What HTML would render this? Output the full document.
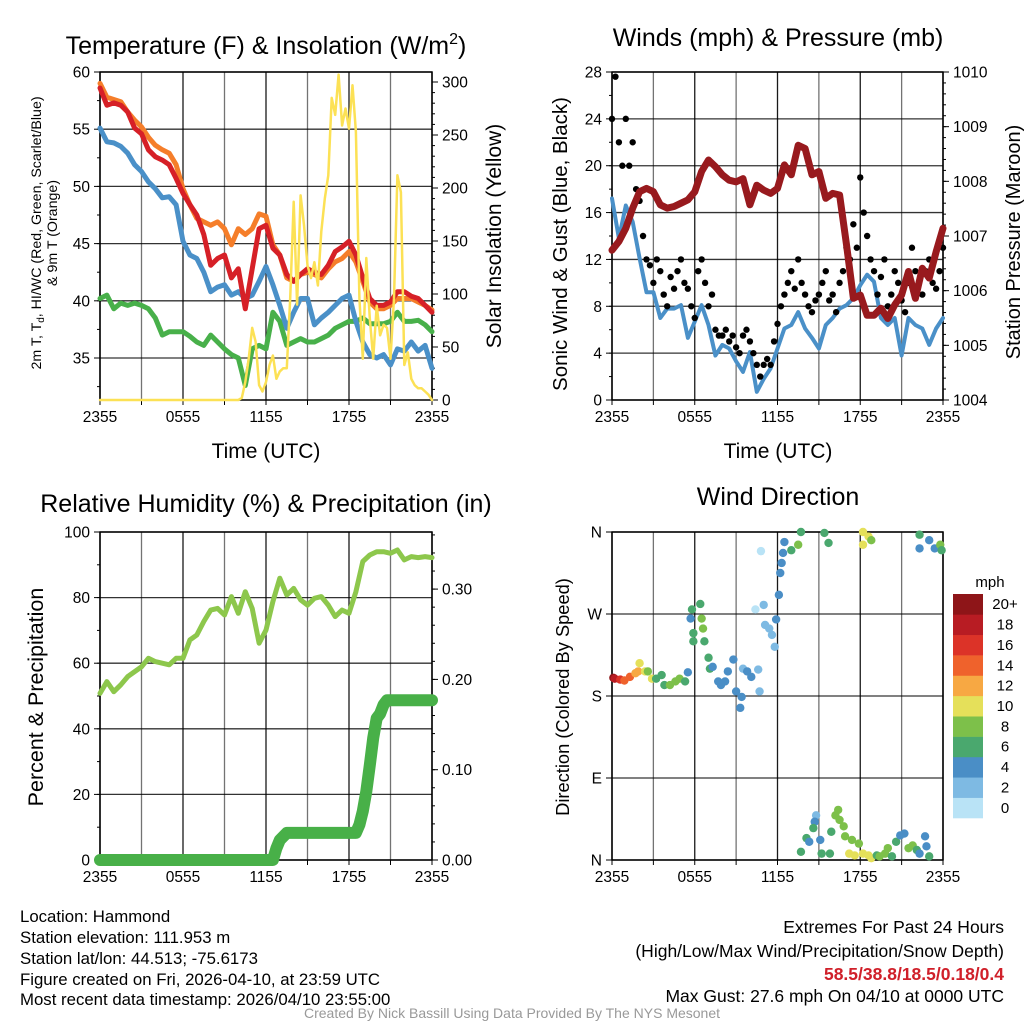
<!DOCTYPE html>
<html><head><meta charset="utf-8"><style>
html,body{margin:0;padding:0;background:#fff;}
svg{display:block;font-family:"Liberation Sans",Arial,sans-serif;}
</style></head><body>
<svg id="chart" width="1024" height="1024" viewBox="0 0 1024 1024" xmlns="http://www.w3.org/2000/svg">
<rect width="1024" height="1024" fill="#fff"/>
<g id="layer"></g>
<text x="266" y="54" font-size="25" text-anchor="middle">Temperature (F) &amp; Insolation (W/m<tspan font-size="16" dy="-10">2</tspan><tspan dy="10">)</tspan></text>
<text x="778" y="46" font-size="25" text-anchor="middle">Winds (mph) &amp; Pressure (mb)</text>
<text x="266" y="512" font-size="25" text-anchor="middle">Relative Humidity (%) &amp; Precipitation (in)</text>
<text x="778" y="505" font-size="25" text-anchor="middle">Wind Direction</text>
<text x="266" y="458" font-size="21" text-anchor="middle">Time (UTC)</text>
<text x="778" y="458" font-size="21" text-anchor="middle">Time (UTC)</text>
<text transform="translate(41,233) rotate(-90)" font-size="14.2" text-anchor="middle">2m T, T<tspan font-size="10" dy="3">d</tspan><tspan dy="-3">, HI/WC (Red, Green, Scarlet/Blue)</tspan></text>
<text transform="translate(57,233) rotate(-90)" font-size="14.2" text-anchor="middle">&amp; 9m T (Orange)</text>
<text transform="translate(501,236) rotate(-90)" font-size="21" text-anchor="middle">Solar Insolation (Yellow)</text>
<text transform="translate(567,244) rotate(-90)" font-size="20.5" text-anchor="middle">Sonic Wind &amp; Gust (Blue, Black)</text>
<text transform="translate(1020,242) rotate(-90)" font-size="20" text-anchor="middle">Station Pressure (Maroon)</text>
<text transform="translate(43,697) rotate(-90)" font-size="21.5" text-anchor="middle">Percent &amp; Precipitation</text>
<text transform="translate(569,697) rotate(-90)" font-size="18.3" text-anchor="middle">Direction (Colored By Speed)</text>
<text x="990" y="587" font-size="15" text-anchor="middle">mph</text>
<g font-size="16.8">
<text x="20" y="922">Location: Hammond</text>
<text x="20" y="943">Station elevation: 111.953 m</text>
<text x="20" y="964">Station lat/lon: 44.513; -75.6173</text>
<text x="20" y="985">Figure created on Fri, 2026-04-10, at 23:59 UTC</text>
<text x="20" y="1005">Most recent data timestamp: 2026/04/10 23:55:00</text>
</g>
<g font-size="17.5" text-anchor="end">
<text x="1004" y="933">Extremes For Past 24 Hours</text>
<text x="1004" y="957">(High/Low/Max Wind/Precipitation/Snow Depth)</text>
<text x="1004" y="980" fill="#d0202a" font-weight="bold">58.5/38.8/18.5/0.18/0.4</text>
<text x="1004" y="1002">Max Gust: 27.6 mph On 04/10 at 0000 UTC</text>
</g>
<text x="512" y="1018" font-size="14" fill="#999" text-anchor="middle">Created By Nick Bassill Using Data Provided By The NYS Mesonet</text>
</svg>
<script>
const halfHourTimes=[0,0.5,1,1.5,2,2.5,3,3.5,4,4.5,5,5.5,6,6.5,7,7.5,8,8.5,9,9.5,10,10.5,11,11.5,12,12.5,13,13.5,14,14.5,15,15.5,16,16.5,17,17.5,18,18.5,19,19.5,20,20.5,21,21.5,22,22.5,23,23.5,24];
const timeTickLabels=["2355","0555","1155","1755","2355"];
const tempTicks=[35,40,45,50,55,60];
const solarTicks=[0,50,100,150,200,250,300];
const windTicks=[0,4,8,12,16,20,24,28];
const pressureTicks=[1004,1005,1006,1007,1008,1009,1010];
const rhTicks=[0,20,40,60,80,100];
const precipTicks=[0,0.1,0.2,0.3];
const precipTickLabels=["0.00","0.10","0.20","0.30"];
const dirTicks=[0,90,180,270,360];
const dirTickLabels=["N","E","S","W","N"];
const speedBins=["0","2","4","6","8","10","12","14","16","18","20+"];
const speedColors=["#b9e3f6","#7ebae3","#4a8ec6","#4aa86e","#7dc04a","#e5e05a","#f7a843","#ef622c","#dc3328","#b81c23","#8e1518"];

const airTemp=[58.6,57.1,57.3,57.1,56.5,55.1,54.6,53.2,52.6,52.3,51.9,50.7,49.4,48.4,47.5,45.8,43.1,43.7,44.0,42.0,42.8,39.3,42.8,46.3,46.6,44.6,44.0,42.3,41.7,42.3,42.8,42.5,42.3,43.1,44.3,44.7,45.2,44.0,42.0,40.2,39.6,39.6,39.9,40.8,40.8,40.4,40.2,39.6,39.0];
const temp9m=[59.0,57.8,57.6,57.4,56.5,55.8,55.2,54.3,53.6,53.2,52.9,51.9,49.8,48.4,47.2,46.9,46.6,46.9,46.3,44.9,46.3,45.8,46.3,47.6,47.4,44.9,44.0,42.0,41.7,42.3,42.5,42.3,42.0,42.8,43.4,43.7,44.3,43.4,41.7,39.9,39.3,39.3,39.6,40.2,40.2,40.2,39.9,39.6,39.2];
const windChill=[55.1,53.9,53.8,53.5,52.9,51.9,51.3,50.4,49.8,49.0,49.1,48.4,45.2,44.0,43.7,42.5,40.8,41.2,41.4,40.5,40.8,40.2,40.5,41.7,43.0,41.4,39.6,37.6,39.0,40.2,40.2,37.9,38.5,39.0,39.6,40.2,40.5,38.2,36.4,35.3,35.0,35.3,34.4,35.8,35.6,36.4,35.6,36.1,34.1];
const dewPoint=[40.2,40.5,39.3,39.8,39.6,39.8,39.6,39.3,38.5,37.0,37.3,37.3,37.3,36.9,36.4,36.1,37.0,36.4,35.8,35.3,35.0,32.6,35.8,36.1,35.8,39.0,38.2,36.1,36.4,36.7,36.4,36.4,36.7,37.0,37.6,37.9,38.2,38.2,38.5,38.0,38.0,38.0,38.2,39.0,38.2,38.2,38.3,37.9,37.3];
const solarTimes=[0,10,10.25,10.5,10.75,11,11.25,11.5,11.75,12,12.25,12.5,12.75,13,13.25,13.5,13.75,14,14.25,14.5,14.75,15,15.25,15.5,15.75,16,16.25,16.5,16.75,17,17.25,17.5,17.75,18,18.25,18.5,18.75,19,19.25,19.5,19.75,20,20.25,20.5,20.75,21,21.25,21.5,21.75,22,22.25,22.5,22.75,23,23.25,23.5,23.75,24];
const solar=[0,0,2,17,39,68,55,14,8,17,33,42,20,27,30,30,96,187,90,193,165,127,115,130,108,159,190,212,285,269,307,259,275,256,297,253,96,39,134,77,39,89,61,71,68,39,96,212,196,33,45,20,14,11,11,8,5,0];

const sonicWind=[17.2,13.8,16.6,15.2,12.1,9.2,9.2,7.0,7.8,7.8,8.1,5.3,6.7,8.1,6.4,3.8,4.7,4.4,3.3,2.4,4.1,0.7,1.8,2.7,4.4,6.1,6.4,7.5,6.1,5.3,4.4,6.4,7.0,7.8,8.1,8.7,9.8,10.7,10.1,7.0,6.4,7.0,3.8,7.0,6.4,6.1,4.7,6.1,7.0];
const gust=[24,27.6,22,20,24,20,22,18,17,14,12,11.5,10,12,11,9,8,10.5,9.5,11,12,10,9.5,8,7,11,12,10,8,9,6,5.5,5.5,6,5,5.5,4.5,4,5.5,6,5,4,3,2,3,3.5,3,5,6.5,8,9,10,11,9.5,12,10,9,8,7.5,8.5,9,10,11,8.5,9,7.5,10,11,13,12,15,13,19,16,14,12,11,9,10.5,12,8,9,11,10,8.5,7.5,10,13,11,10,9,11,12,10,9.5,11,13];
const pressure=[1006.74,1006.90,1007.14,1007.51,1007.81,1007.87,1007.81,1007.57,1007.51,1007.54,1007.60,1007.66,1007.81,1008.18,1008.39,1008.27,1008.12,1008.02,1007.99,1008.05,1007.57,1007.93,1007.84,1007.78,1007.87,1008.30,1008.12,1008.66,1008.60,1008.12,1008.18,1007.69,1007.78,1007.75,1006.84,1005.86,1005.92,1005.55,1005.55,1005.68,1005.49,1005.74,1005.92,1006.35,1005.86,1006.41,1006.23,1006.71,1007.14];

const relHumidity=[50.8,54.4,51.3,53.4,55.9,57.4,58.9,61.5,60.5,60.0,59.5,61.5,61.5,67.1,68.6,72.7,76.2,76.7,74.7,80.3,75.2,81.8,76.7,66.1,70.1,78.8,85.9,80.8,82.8,79.3,77.7,79.8,80.3,77.7,74.2,76.2,75.2,81.8,91.0,93.0,94.0,94.0,93.5,94.5,91.5,92.5,92.2,92.5,92.2];
const precipTimes=[0,12.5,12.75,13,13.5,18.5,18.75,19,19.25,19.5,19.75,20,20.25,20.5,20.75,21,24];
const precip=[0,0,0.013,0.022,0.030,0.030,0.039,0.054,0.076,0.105,0.135,0.157,0.162,0.172,0.177,0.177,0.177];

const dirTimes=[0.1,0.2,0.6,0.9,1.3,1.7,1.9,2.0,2.4,2.6,2.9,3.2,3.6,3.8,4.2,4.6,4.9,5.3,5.5,5.7,5.8,6.4,6.5,6.6,5.9,5.9,6.7,7.0,7.1,7.3,7.7,7.9,8.2,8.4,8.8,9.0,9.3,9.4,9.5,9.8,10.1,10.6,10.7,10.4,11.0,11.1,11.4,11.6,11.8,11.9,12.1,12.2,12.3,12.4,12.5,13.0,13.5,13.7,15.4,15.7,18.2,18.6,18.8,18.2,22.3,22.3,23.0,23.4,23.8,23.9,10.8,14.8,14.7,14.6,14.1,14.3,15.1,13.7,15.2,15.8,15.9,16.2,16.4,16.5,16.8,16.9,17.4,17.9,17.2,17.6,18.2,18.6,18.8,19.2,19.4,19.8,20.0,20.3,20.6,20.9,21.2,21.5,21.8,22.1,22.3,22.7,22.8,23.0];
const dirDegrees=[200,199,198,197,201,205,207,216,207,207,199,199,203,192,192,196,199,196,206,265,275,281,265,254,249,240,240,222,210,212,196,192,196,207,220,185,167,179,210,207,201,209,185,275,280,258,254,247,234,264,291,315,326,337,349,340,346,360,359,348,360,355,351,346,357,342,351,342,346,340,339,49,42,35,24,20,22,9,7,7,31,49,55,44,37,26,22,18,7,5,7,5,2,5,4,7,13,4,20,27,29,13,16,11,7,26,15,4];
const dirSpeeds=[20,18,16,15,14,13,12,10,10,8,10,6,6,6,8,8,8,6,4,4,6,6,8,8,6,6,6,6,6,4,4,4,4,4,4,4,4,4,2,4,4,2,2,0,2,2,2,2,2,4,4,4,4,4,4,6,8,6,6,6,10,10,8,10,6,4,4,4,8,6,0,2,4,6,6,4,4,6,6,6,6,8,8,8,8,8,8,8,10,10,10,10,10,6,8,8,8,6,6,4,4,8,8,6,4,4,4,6];

const NS="http://www.w3.org/2000/svg";
const layer=document.getElementById('layer');
function mk(tag,attrs,parent){const e=document.createElementNS(NS,tag);for(const k in attrs)e.setAttribute(k,attrs[k]);(parent||layer).appendChild(e);return e;}

function makeX(x0,x1){return t=>x0+t*(x1-x0)/24;}
const p1x=makeX(100,432), p2x=makeX(612,943);
const p1y=v=>72+(60-v)*(328/(60-31.33));
const p1yR=v=>400-v*1.06;
const p2y=v=>400-v*(328/28);
const p2yR=p=>400-(p-1004)*(328/6);
const p3y=v=>860-v*3.28;
const p3yR=p=>860-p*903;
const p4y=d=>860-d*328/360;

function panelFrame(name,x0,x1,y0,y1,hLines){
  const g=mk('g',{});
  
  
  for(let i=0;i<=8;i++){const x=x0+i*(x1-x0)/8;const l=mk('line',{x1:x,x2:x,y1:y0,y2:y1,stroke:'#000','stroke-width':1.3,'stroke-opacity':(i%2?0.55:0.9)},g);}
  hLines.forEach(y=>{const l=mk('line',{x1:x0,x2:x1,y1:y,y2:y,stroke:'#000','stroke-width':1.3,'stroke-opacity':0.8},g);});
  const b=mk('rect',{x:x0,y:y0,width:x1-x0,height:y1-y0,fill:'none',stroke:'#000','stroke-width':1.5},g);
  
  
  timeTickLabels.forEach((lab,i)=>{const x=x0+i*(x1-x0)/4;const t=mk('text',{x:x,y:y1+22,'font-size':15.5,'text-anchor':'middle'},g);t.textContent=lab;});
  for(let i=0;i<=8;i++){const x=x0+i*(x1-x0)/8;mk('line',{x1:x,x2:x,y1:y1,y2:y1+5,stroke:'#000','stroke-width':1},g);}
}
function yAxis(name,ticks,labels,fy,xAxis,side,minorStep,minMax){
  const g=mk('g',{});
  
  
  const dir=side==='left'?-1:1;
  ticks.forEach((v,i)=>{const y=fy(v);mk('line',{x1:xAxis,x2:xAxis+dir*6,y1:y,y2:y,stroke:'#000','stroke-width':1},g);
    const t=mk('text',{x:xAxis+dir*10,y:y+5.5,'font-size':15.5,'text-anchor':side==='left'?'end':'start'},g);t.textContent=labels?labels[i]:v;});
  if(minorStep){for(let v=minMax[0];v<=minMax[1]+1e-9;v+=minorStep){const y=fy(v);mk('line',{x1:xAxis,x2:xAxis+dir*3,y1:y,y2:y,stroke:'#000','stroke-width':1},g);}}
}
function polyline(name,xs,ys,fx,fy,color,w){
  const pts=xs.map((t,i)=>fx(t).toFixed(1)+','+fy(ys[i]).toFixed(1)).join(' ');
  const p=mk('polyline',{points:pts,fill:'none',stroke:color,'stroke-width':w,'stroke-linejoin':'round','stroke-linecap':'round'});
  
  
  return p;
}

panelFrame('temperature-panel',100,432,72,400,tempTicks.map(p1y));
yAxis('temperature-y-axis',tempTicks,null,p1y,100,'left',2.5,[32.5,60]);
yAxis('solar-y-axis',solarTicks,null,p1yR,432,'right',10,[0,300]);
polyline('dewpoint-line',halfHourTimes,dewPoint,p1x,p1y,'#48b04a',5);
polyline('windchill-line',halfHourTimes,windChill,p1x,p1y,'#4a90c8',5);
polyline('temp-9m-line',halfHourTimes,temp9m,p1x,p1y,'#f57e2a',5);
polyline('air-temp-line',halfHourTimes,airTemp,p1x,p1y,'#d62027',5);
polyline('solar-insolation-line',solarTimes,solar,p1x,p1yR,'#fce155',2.5);

panelFrame('wind-panel',612,943,72,400,windTicks.map(p2y));
yAxis('wind-y-axis',windTicks,null,p2y,612,'left',2,[0,28]);
yAxis('pressure-y-axis',pressureTicks,null,p2yR,943,'right',0.2,[1004,1010]);
polyline('sonic-wind-line',halfHourTimes,sonicWind,p2x,p2y,'#4a90c8',4);
gust.forEach((v,i)=>{const c=mk('circle',{cx:p2x(i*0.25),cy:p2y(v),r:3.2,fill:'#000'});
  
  });
polyline('pressure-line',halfHourTimes,pressure,p2x,p2yR,'#981a1e',7);

panelFrame('humidity-panel',100,432,532,860,rhTicks.map(p3y));
yAxis('humidity-y-axis',rhTicks,null,p3y,100,'left',10,[0,100]);
yAxis('precip-y-axis',precipTicks,precipTickLabels,p3yR,432,'right',0.02,[0,0.36]);
polyline('relative-humidity-line',halfHourTimes,relHumidity,p1x,p3y,'#8dc74c',5);
polyline('precipitation-line',precipTimes,precip,p1x,p3yR,'#48b048',12);

panelFrame('wind-direction-panel',612,943,532,860,dirTicks.map(p4y));
yAxis('direction-y-axis',dirTicks,dirTickLabels,p4y,612,'left',null,null);
dirTimes.forEach((t,i)=>{const idx=Math.min(10,Math.floor(dirSpeeds[i]/2));
  const c=mk('circle',{cx:p2x(t),cy:p4y(dirDegrees[i]),r:4.2,fill:speedColors[idx]});
  
  });

const cb=mk('g',{});


const boxH=(818-594)/speedBins.length;
speedBins.forEach((lab,i)=>{const y=818-(i+1)*boxH;
  const r=mk('rect',{x:953,y:y,width:30,height:boxH+0.3,fill:speedColors[i]},cb);
  
  
  const t=mk('text',{x:1005,y:y+boxH/2+5,'font-size':15,'text-anchor':'middle'},cb);t.textContent=lab;
  
  });
</script>
</body></html>
